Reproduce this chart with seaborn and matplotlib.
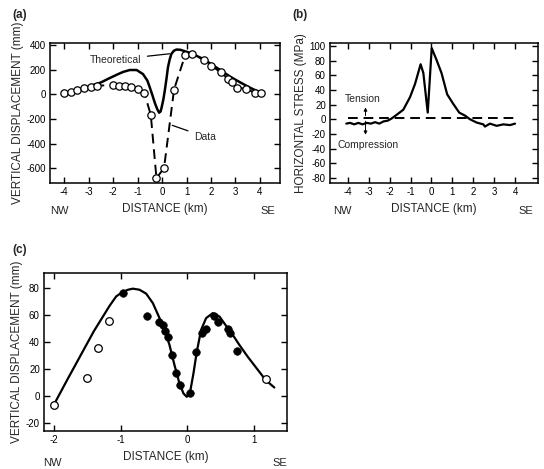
import numpy as np
import pandas as pd
import matplotlib
matplotlib.use('Agg')
import matplotlib.pyplot as plt
import seaborn as sns

sns.set_style('ticks')
plt.rcParams['font.family'] = ['Liberation Sans', 'DejaVu Sans']
plt.rcParams['axes.unicode_minus'] = False

# ---- panel (a): vertical displacement, theoretical vs data ----
theory_x = [-3.9, -3.5, -3.2, -2.8, -2.5, -2.2, -1.86, -1.6, -1.32, -1.04, -0.78, -0.6, -0.5,
            -0.4, -0.3, -0.2, -0.12, -0.06, -0.02, 0.05, 0.11, 0.18, 0.24, 0.31, 0.38, 0.48,
            0.59, 0.75, 0.9, 1.1, 1.4, 1.7, 2.0, 2.4, 2.8, 3.2, 3.6, 4.0]
theory_y = [13, 32, 49, 75, 95, 125, 157, 180, 196, 196, 163, 110, 54,
            -5, -68, -120, -150, -140, -109, -45, 27, 125, 217, 280, 326, 352,
            362, 360, 350, 338, 312, 283, 245, 193, 140, 95, 52, 15]

data_x = [-4.0, -3.73, -3.47, -3.2, -2.92, -2.64, -2.0, -1.76, -1.51, -1.25, -0.99, -0.72,
          -0.46, -0.23, 0.08, 0.49, 0.95, 1.24, 1.71, 2.02, 2.40, 2.69, 2.87, 3.06, 3.44, 3.78, 4.06]
data_y = [11, 21, 35, 49, 60, 68, 76, 70, 65, 60, 46, 8,
          -169, -680, -600, 38, 321, 326, 280, 231, 176, 127, 95, 54, 43, 13, 8]

# ---- panel (b): horizontal stress ----
stress_x = [-4.08, -3.9, -3.7, -3.5, -3.3, -3.1, -2.9, -2.7, -2.5, -2.3, -2.1, -1.91, -1.67, -1.35,
            -1.03, -0.79, -0.52, -0.39, -0.18, 0.01, 0.24, 0.48, 0.75, 1.04, 1.33, 1.6, 1.84,
            2.16, 2.48, 2.56, 2.8, 3.12, 3.44, 3.76, 4.0]
stress_y = [-6, -5, -7, -5, -7, -5, -6, -4, -6, -3, -2, 1, 6, 13,
            30, 48, 75, 63, 9, 97, 81, 63, 34, 21, 9, 5, 0,
            -4.5, -7, -10, -6, -9, -7, -8, -6]

# ---- panel (c): vertical displacement, model and levelling ----
model_x = [-2.0, -1.8, -1.6, -1.4, -1.165, -1.065, -0.975, -0.89, -0.815, -0.715, -0.615,
           -0.515, -0.415, -0.34, -0.265, -0.19, -0.115, -0.055, -0.005, 0.045, 0.095,
           0.145, 0.21, 0.285, 0.385, 0.485, 0.585, 0.685, 0.785, 0.91, 1.18, 1.31]
model_y = [-6.4, 12, 30, 48, 66.7, 73.7, 76.7, 78.6, 79.4, 78.6, 75.7,
           68.7, 57.6, 48.9, 37.7, 22.8, 9.2, 1.8, -0.7, 3.0, 16.7,
           32.7, 48.9, 57.6, 61.3, 58.8, 51.9, 45.2, 37.7, 29.0, 11.7, 6.2]

open_x = [-2.0, -1.51, -1.34, -1.18, 1.19]
open_y = [-6.4, 13.4, 35.7, 55.6, 12.2]

filled_x = [-0.97, -0.61, -0.43, -0.37, -0.33, -0.29, -0.23, -0.16, -0.1, 0.05,
            0.13, 0.22, 0.28, 0.40, 0.47, 0.62, 0.65, 0.75]
filled_y = [76.2, 59.3, 54.6, 52.6, 48.4, 43.4, 30.3, 17.1, 8.0, 2.2,
            32.7, 46.4, 49.6, 59.5, 55.0, 49.4, 46.9, 33.2]

W, H = 544, 469
fig = plt.figure(figsize=(W / 100, H / 100), dpi=100)


def add_ax(x0, y0, x1, y1):
    return fig.add_axes([x0 / W, 1 - y1 / H, (x1 - x0) / W, (y1 - y0) / H])


def style(ax, ylabel):
    ax.tick_params(direction='in', top=True, right=True, length=4, width=1,
                   labelsize=7, pad=3, colors='black')
    for s in ax.spines.values():
        s.set_linewidth(1.1)
        s.set_color('black')
    ax.set_xlabel('DISTANCE (km)', fontsize=8.5, labelpad=4)
    ax.set_ylabel(ylabel, fontsize=8.5, labelpad=2)


def nw_se(ax, xnw, xse):
    tr = ax.get_xaxis_transform()
    ax.text(xnw, -0.2, 'NW', transform=tr, ha='center', va='center', fontsize=8)
    ax.text(xse, -0.2, 'SE', transform=tr, ha='center', va='center', fontsize=8)


# (a)
ax1 = add_ax(50, 43, 280, 183)
sns.lineplot(x=data_x, y=data_y, ax=ax1, color='black', lw=1.4, ls=(0, (5, 3)), sort=False)
sns.lineplot(x=theory_x, y=theory_y, ax=ax1, color='black', lw=1.8, sort=False)
sns.scatterplot(x=data_x, y=data_y, ax=ax1, s=28, facecolor='white', edgecolor='black',
                linewidth=0.9, zorder=5)
ax1.set_xlim(-4.58, 4.82)
ax1.set_ylim(-720, 415)
ax1.set_xticks(range(-4, 5))
ax1.set_yticks(range(-600, 401, 200))
style(ax1, 'VERTICAL DISPLACEMENT (mm)')
nw_se(ax1, -4.2, 4.31)
ax1.annotate('Theoretical', xy=(0.42, 330), xytext=(-2.95, 280), fontsize=7.5,
             va='center', arrowprops=dict(arrowstyle='-', color='black', lw=0.9))
ax1.annotate('Data', xy=(0.31, -245), xytext=(1.3, -345), fontsize=7.5,
             va='center', arrowprops=dict(arrowstyle='-', color='black', lw=0.9))
fig.text(12 / W, 1 - 15 / H, '(a)', fontsize=8.5, fontweight='bold', va='center')

# (b)
ax2 = add_ax(330, 43, 538, 183)
sns.lineplot(x=stress_x, y=stress_y, ax=ax2, color='black', lw=1.6, sort=False)
ax2.plot([-4, 4], [1, 1], color='black', lw=1.4, ls=(0, (5, 3)))
ax2.set_xlim(-4.86, 5.1)
ax2.set_ylim(-87, 104)
ax2.set_xticks(range(-4, 5))
ax2.set_yticks(range(-80, 101, 20))
style(ax2, 'HORIZONTAL STRESS (MPa)')
nw_se(ax2, -4.27, 4.5)
ax2.annotate('', xy=(-3.16, 20), xytext=(-3.16, 1),
             arrowprops=dict(arrowstyle='-|>', color='black', lw=0.7, mutation_scale=5))
ax2.annotate('', xy=(-3.16, -25), xytext=(-3.16, 1),
             arrowprops=dict(arrowstyle='-|>', color='black', lw=0.7, mutation_scale=5))
ax2.text(-3.3, 28, 'Tension', fontsize=7.5, ha='center', va='center')
ax2.text(-3.05, -35, 'Compression', fontsize=7.5, ha='center', va='center')
fig.text(292 / W, 1 - 15 / H, '(b)', fontsize=8.5, fontweight='bold', va='center')

# (c)
ax3 = add_ax(44, 273, 287, 431)
sns.lineplot(x=model_x, y=model_y, ax=ax3, color='black', lw=1.6, sort=False)
sns.scatterplot(x=filled_x, y=filled_y, ax=ax3, s=30, color='black', edgecolor='black', zorder=5)
sns.scatterplot(x=open_x, y=open_y, ax=ax3, s=30, facecolor='white', edgecolor='black',
                linewidth=0.9, zorder=5)
ax3.set_xlim(-2.15, 1.5)
ax3.set_ylim(-26, 91)
ax3.set_xticks([-2, -1, 0, 1])
ax3.set_yticks(range(-20, 81, 20))
style(ax3, 'VERTICAL DISPLACEMENT (mm)')
nw_se(ax3, -2.02, 1.39)
fig.text(12 / W, 1 - 250 / H, '(c)', fontsize=8.5, fontweight='bold', va='center')

fig.savefig('out.png', dpi=100)
